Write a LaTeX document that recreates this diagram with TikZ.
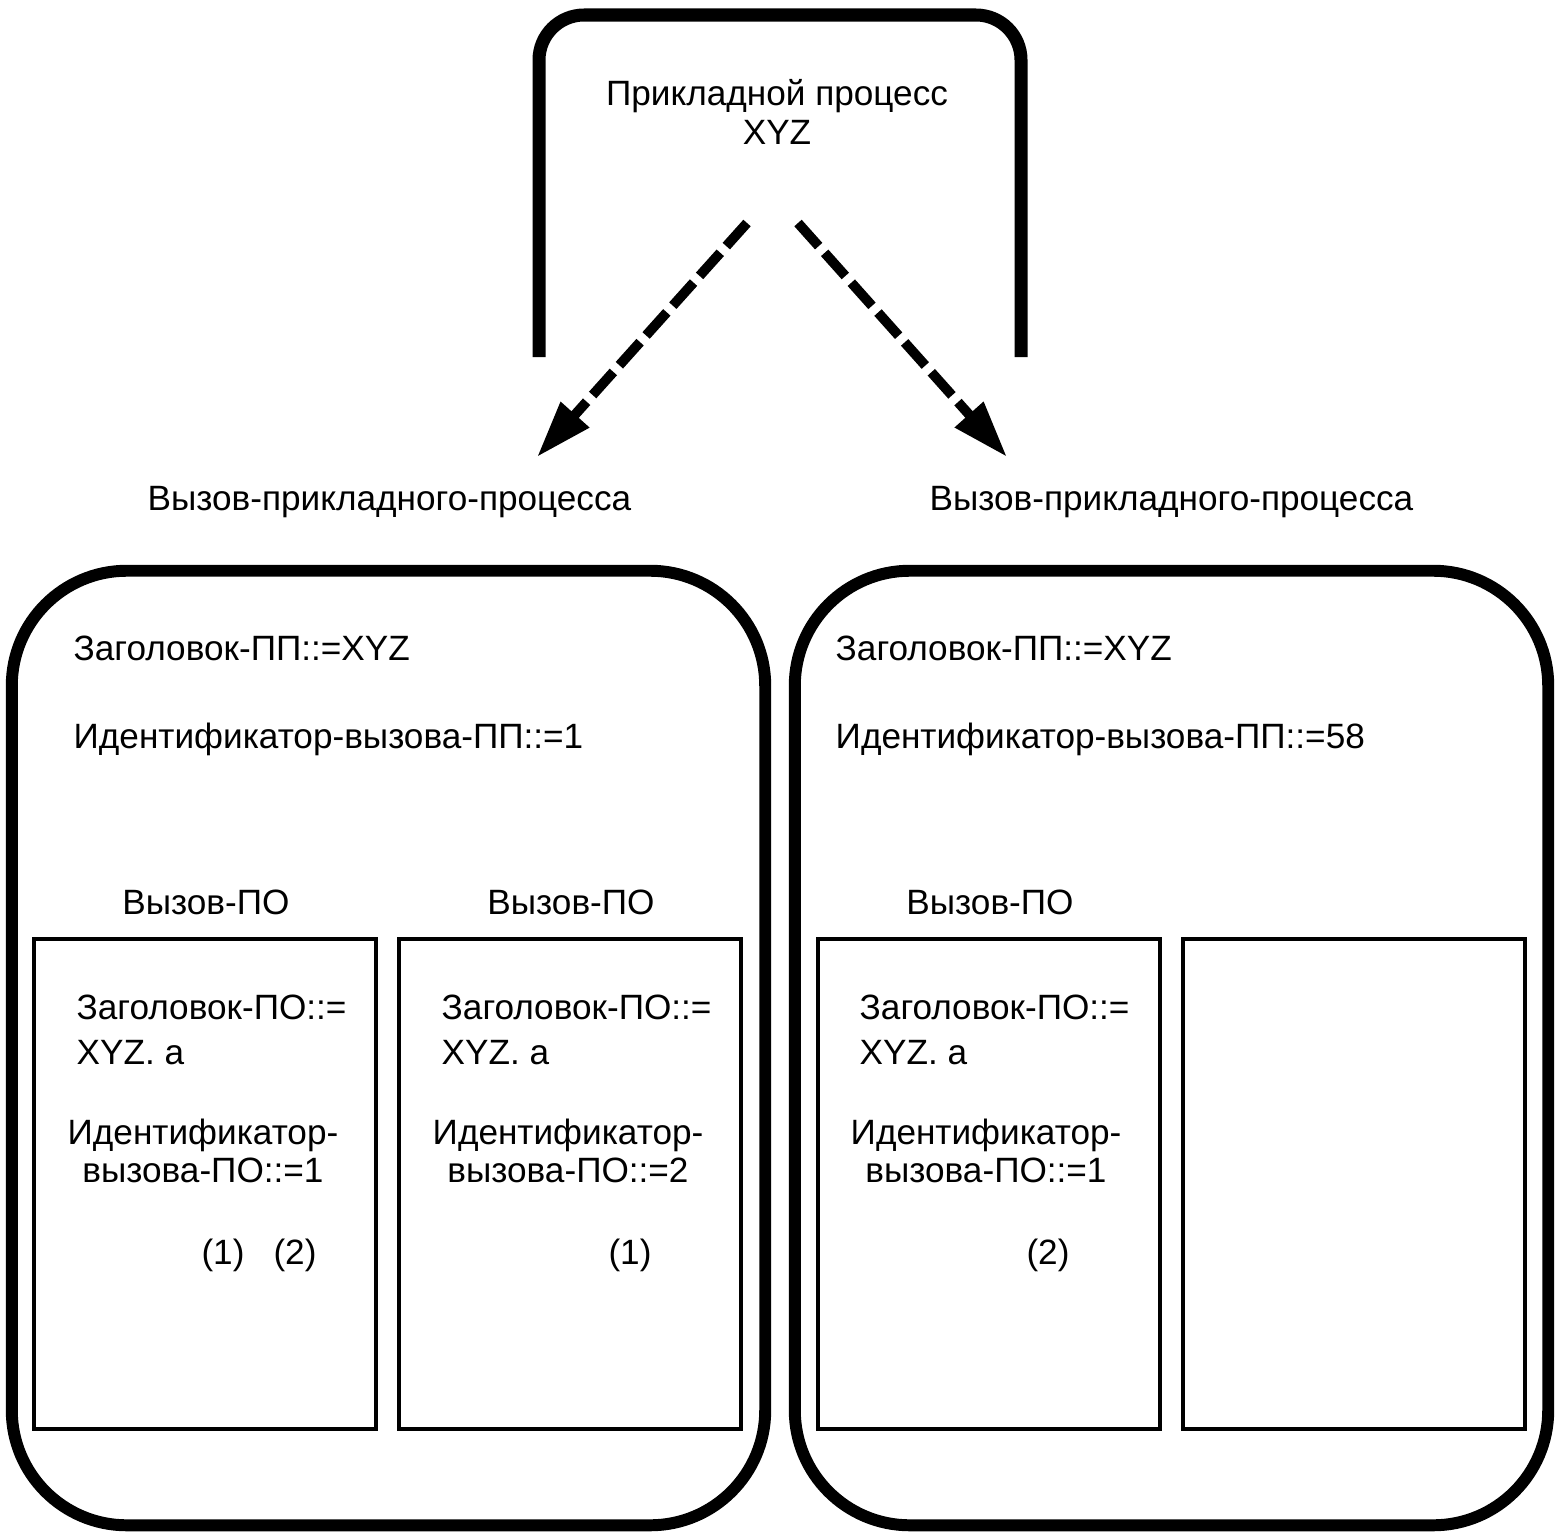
\documentclass[tikz,border=0pt]{standalone}
\usepackage{fontspec}
\setmainfont{Liberation Sans}
\usetikzlibrary{arrows.meta}

\begin{document}
\begin{tikzpicture}[x=0.01cm, y=-0.01cm,
    every node/.style={font=\fontsize{10pt}{11pt}\selectfont, inner sep=0pt},
    bigbox/.style={draw, line width=3.4pt, rounded corners=1.15cm},
    callbox/.style={draw, line width=1.1pt, minimum width=3.42cm, minimum height=4.9cm},
    dasharrow/.style={line width=2.8pt, dash pattern=on 0.31cm off 0.09cm,
        -{Triangle[length=0.57cm, width=0.36cm]}}]
    \useasboundingbox (0,0) rectangle (1561,1536);

    % Application process (open frame)
    \draw[line width=3.7pt, rounded corners=0.45cm] (539,357) -- (539,15) -- (1021,15) -- (1021,357);
    \node[align=center] (proc) at (777,112) {Прикладной процесс\\XYZ};

    % Invocation arrows
    \coordinate (lstart) at (747,223);
    \coordinate (ltip) at (537,457);
    \coordinate (rstart) at (798,223);
    \coordinate (rtip) at (1007,457);
    \draw[dasharrow] (lstart) -- (ltip);
    \draw[dasharrow] (rstart) -- (rtip);

    \node[anchor=west] (linv) at (147,502) {Вызов-прикладного-процесса};
    \node[anchor=west] (rinv) at (929,502) {Вызов-прикладного-процесса};

    % Invocation boxes
    \node[bigbox, minimum width=7.53cm, minimum height=9.54cm] (lcall) at (388.5,1048) {};
    \node[bigbox, minimum width=7.53cm, minimum height=9.54cm] (rcall) at (1171.5,1048) {};

    \node[anchor=west] (ltitle) at (73,648) {Заголовок-ПП::=XYZ};
    \node[anchor=west] (lid) at (73,739) {Идентификатор-вызова-ПП::=1};
    \node[anchor=west] (rtitle) at (835,648) {Заголовок-ПП::=XYZ};
    \node[anchor=west] (rid) at (835,739) {Идентификатор-вызова-ПП::=58};

    % AE invocations
    \node[callbox] (ae1) at (205,1184) {};
    \node[callbox] (ae2) at (570,1184) {};
    \node[callbox] (ae3) at (989,1184) {};
    \node[callbox] (ae4) at (1354,1184) {};

    \node (ae1lbl) at (206,902) {Вызов-ПО};
    \node (ae2lbl) at (571,902) {Вызов-ПО};
    \node (ae3lbl) at (990,902) {Вызов-ПО};

    \node[anchor=west, align=left, font=\fontsize{10pt}{12.8pt}\selectfont] (ae1title) at (76,1030) {Заголовок-ПО::=\\XYZ. a};
    \node[anchor=west, align=left, font=\fontsize{10pt}{12.8pt}\selectfont] (ae2title) at (441,1030) {Заголовок-ПО::=\\XYZ. a};
    \node[anchor=west, align=left, font=\fontsize{10pt}{12.8pt}\selectfont] (ae3title) at (859,1030) {Заголовок-ПО::=\\XYZ. a};

    \node[align=center] (ae1id) at (203,1151) {Идентификатор-\\вызова-ПО::=1};
    \node[align=center] (ae2id) at (568,1151) {Идентификатор-\\вызова-ПО::=2};
    \node[align=center] (ae3id) at (986,1151) {Идентификатор-\\вызова-ПО::=1};

    \node (ae1a) at (223,1255) {(1)};
    \node (ae1b) at (295,1255) {(2)};
    \node (ae2a) at (630,1255) {(1)};
    \node (ae3a) at (1048,1255) {(2)};
\end{tikzpicture}
\end{document}
